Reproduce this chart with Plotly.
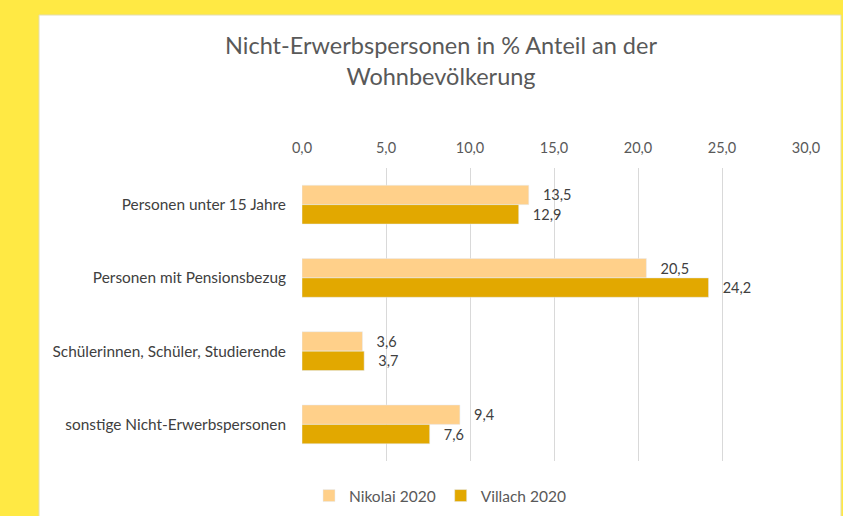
import plotly.graph_objects as go

categories = ["Personen unter 15 Jahre", "Personen mit Pensionsbezug",
              "Schülerinnen, Schüler, Studierende", "sonstige Nicht-Erwerbspersonen"]
nikolai = [13.5, 20.5, 3.6, 9.4]
villach = [12.9, 24.2, 3.7, 7.6]
series_names = ["Nikolai 2020", "Villach 2020"]
tick_vals = [0, 5, 10, 15, 20, 25, 30]

FONT = "Lato"
TXT = "#595959"

fig = go.Figure()
for name, vals, col in [(series_names[0], nikolai, "#FFD08A"), (series_names[1], villach, "#E2A800")]:
    fig.add_trace(go.Bar(y=categories, x=vals, name=name, orientation="h",
                         marker_color=col, texttemplate="   %{x:.1f}", textposition="outside",
                         textfont=dict(size=14.5, color="#404040", family=FONT), cliponaxis=False))

W, H = 843, 516
L, R, T, B = 302, 806, 168, 461

def px_x(p):
    return (p - L) / (R - L)

def px_y(p):
    return (B - p) / (B - T)

fig.add_shape(type="rect", xref="paper", yref="paper",
              x0=px_x(39), x1=px_x(841), y0=px_y(517), y1=px_y(15),
              fillcolor="white", line=dict(color="#E3DDB0", width=1), layer="below")

fig.update_layout(
    width=W, height=H,
    margin=dict(l=L, r=W - R, t=T, b=H - B, autoexpand=False),
    paper_bgcolor="#FFE944", plot_bgcolor="rgba(0,0,0,0)",
    separators=",.",
    barmode="group", bargap=0.47, bargroupgap=0.0,
    font=dict(family=FONT, color=TXT, size=14.5),
    title=dict(text="Nicht-Erwerbspersonen in % Anteil an der<br>Wohnbevölkerung",
               x=441 / W, xanchor="center", y=1 - 54 / H, yanchor="top",
               font=dict(size=23.5, color=TXT, family=FONT)),
    xaxis=dict(side="top", range=[0, 30], tickvals=tick_vals, tickformat=".1f",
               showgrid=True, gridcolor="#D9D9D9", gridwidth=1, zeroline=False,
               showline=False, ticks="", automargin=False, ticklabelstandoff=11,
               tickfont=dict(size=14.5, color=TXT)),
    yaxis=dict(autorange="reversed", showgrid=False, ticks="", showline=False,
               automargin=False, ticklabelstandoff=15,
               tickfont=dict(size=15.4, color="#404040")),
    legend=dict(orientation="h", x=px_x(440), xanchor="center", y=px_y(496), yanchor="middle",
                font=dict(size=15.5, color=TXT), bgcolor="rgba(0,0,0,0)",
                itemwidth=30, tracegroupgap=0),
    showlegend=True,
)

fig.write_html("out.html", config={"displayModeBar": False},
               post_script="document.body.style.margin='0';")
